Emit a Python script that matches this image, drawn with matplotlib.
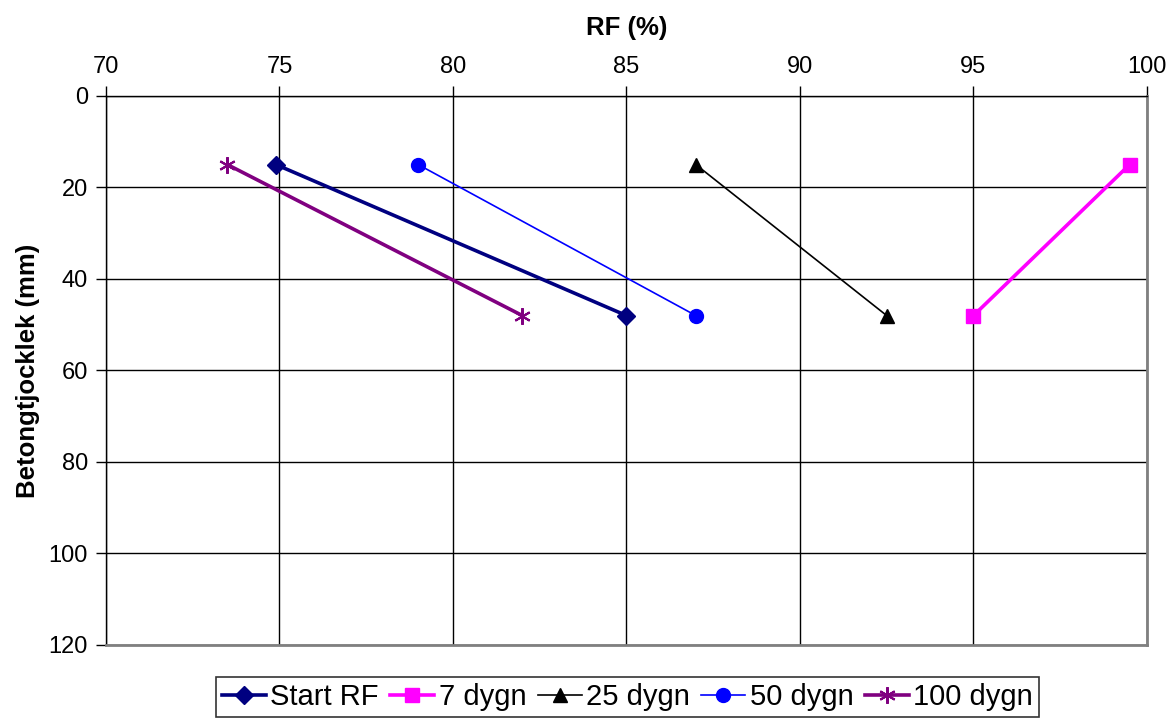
import matplotlib
matplotlib.use("Agg")
import matplotlib.pyplot as plt

plt.rcParams['font.family'] = ['Liberation Sans', 'DejaVu Sans']

# --- data: RF (%) vs depth (mm) ---
depth = [15, 48]
start_rf = [74.9, 85.0]
dygn_7 = [99.5, 95.0]
dygn_25 = [87.0, 92.5]
dygn_50 = [79.0, 87.0]
dygn_100 = [73.5, 82.0]

x_ticks = [70, 75, 80, 85, 90, 95, 100]
y_ticks = [0, 20, 40, 60, 80, 100, 120]

fig = plt.figure(figsize=(11.76, 7.2), dpi=100)
ax = fig.add_axes([0.0901, 0.1042, 0.8852, 0.7625])

ax.plot(start_rf, depth, color='#000080', lw=2.6, marker='D', ms=9, label='Start RF')
ax.plot(dygn_7, depth, color='#FF00FF', lw=2.6, marker='s', ms=10, label='7 dygn')
ax.plot(dygn_25, depth, color='black', lw=1.2, marker='^', ms=10, label='25 dygn')
ax.plot(dygn_50, depth, color='#0000FF', lw=1.2, marker='o', ms=10, label='50 dygn')
ax.plot(dygn_100, depth, color='#800080', lw=2.6, marker=(6, 2, 0), ms=12,
        mew=1.5, label='100 dygn')

ax.set_xlim(70, 100)
ax.set_ylim(120, 0)
ax.set_xticks(x_ticks)
ax.set_yticks(y_ticks)
ax.xaxis.tick_top()
ax.xaxis.set_label_position('top')
ax.tick_params(axis='both', labelsize=17, direction='out', length=7, width=1, pad=6)
ax.tick_params(axis='x', top=True, bottom=False)

ax.grid(True, color='black', lw=1)
ax.set_axisbelow(True)
for s in ['left', 'top']:
    ax.spines[s].set_color('black')
    ax.spines[s].set_linewidth(1)
for s in ['right', 'bottom']:
    ax.spines[s].set_color('#808080')
    ax.spines[s].set_linewidth(2)

ax.set_xlabel('RF (%)', fontsize=18.5, fontweight='bold', labelpad=15)
ax.set_ylabel('Betongtjocklek (mm)', fontsize=18.5, fontweight='bold', labelpad=6)

leg = fig.legend(loc='lower center', bbox_to_anchor=(0.5336, 0.0), ncol=5, fontsize=21,
                 frameon=True, fancybox=False, edgecolor='black', handlelength=1.5,
                 handletextpad=0.15, columnspacing=0.4, borderpad=0.2, borderaxespad=0.1)
leg.get_frame().set_linewidth(1.2)

fig.savefig('out.png', dpi=100)
